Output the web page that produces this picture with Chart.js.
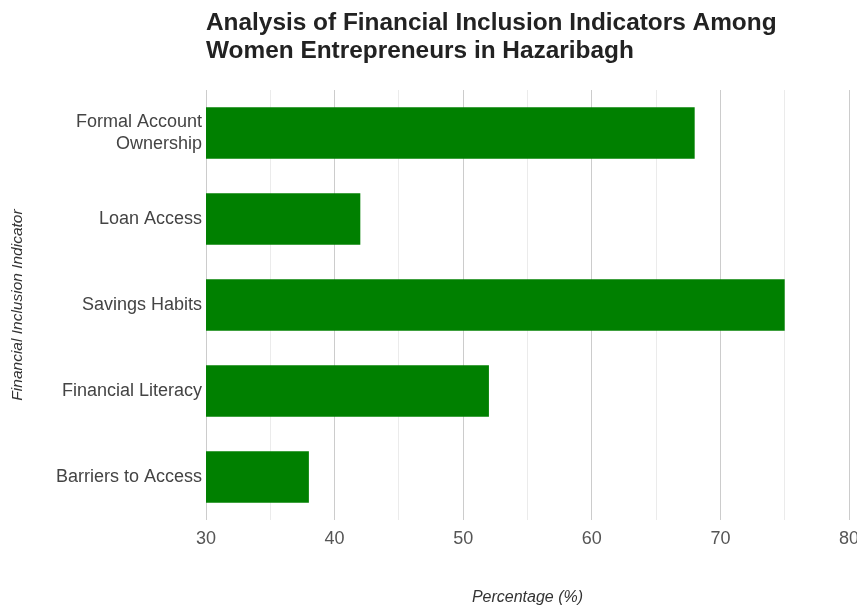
<!DOCTYPE html>
<html>
<head>
<meta charset="utf-8">
<script src="https://cdn.jsdelivr.net/npm/chart.js@4"></script>
<style>
  html, body { margin: 0; padding: 0; background: #fff; overflow: hidden; }
  #wrap { position: relative; width: 880px; height: 607px; }
</style>
</head>
<body>
<div id="wrap"><canvas id="chart"></canvas></div>
<script>
// financial inclusion indicators, % of respondents
const indicators = [['Formal Account', 'Ownership'], 'Loan Access', 'Savings Habits', 'Financial Literacy', 'Barriers to Access'];
const percentages = [68, 42, 75, 52, 38];
const xTicks = [30, 40, 50, 60, 70, 80];
const titleLines = ['Analysis of Financial Inclusion Indicators Among', 'Women Entrepreneurs in Hazaribagh'];

const F = "'Liberation Sans', Arial, sans-serif";

// heading sits flush with the plot's left edge, not the canvas edge
const headingPlugin = {
  id: 'heading',
  afterDraw(chart) {
    const ctx = chart.ctx;
    ctx.save();
    ctx.fillStyle = '#222';
    ctx.font = `bold 24.4px ${F}`;
    ctx.textAlign = 'left';
    ctx.textBaseline = 'alphabetic';
    titleLines.forEach((t, i) => ctx.fillText(t, chart.chartArea.left, 30 + i * 28));
    ctx.restore();
  }
};

new Chart(document.getElementById('chart'), {
  type: 'bar',
  data: {
    labels: indicators,
    datasets: [{
      label: 'Percentage',
      data: percentages,
      backgroundColor: '#008000',
      borderWidth: 0,
      categoryPercentage: 1,
      barPercentage: 0.6
    }]
  },
  options: {
    indexAxis: 'y',
    responsive: true,
    maintainAspectRatio: false,
    animation: false,
    layout: { padding: { top: 90, left: 0, right: 31, bottom: 0 } },
    plugins: { legend: { display: false }, tooltip: { enabled: false } },
    scales: {
      x: {
        min: 30, max: 80,
        afterFit: s => { s.height = 87; },
        grid: {
          drawTicks: false,
          color: c => (c.tick && xTicks.includes(c.tick.value)) ? '#cccccc' : '#ebebeb'
        },
        border: { display: false },
        ticks: {
          stepSize: 5,
          padding: 8,
          color: '#555',
          font: { size: 18, family: F },
          callback: v => xTicks.includes(v) ? v : ''
        },
        title: {
          display: true,
          text: 'Percentage (%)',
          color: '#333',
          font: { size: 16, style: 'italic', family: F },
          padding: { top: 0, bottom: 0 }
        }
      },
      y: {
        afterFit: s => { s.width = 206; },
        grid: { display: false, drawTicks: false },
        border: { display: false },
        ticks: { padding: 4, color: '#444', font: { size: 18, family: F } },
        title: {
          display: true,
          text: 'Financial Inclusion Indicator',
          color: '#333',
          font: { size: 15.5, style: 'italic', family: F },
          padding: { top: 8, bottom: 0 }
        }
      }
    }
  },
  plugins: [headingPlugin]
});
</script>
</body>
</html>
